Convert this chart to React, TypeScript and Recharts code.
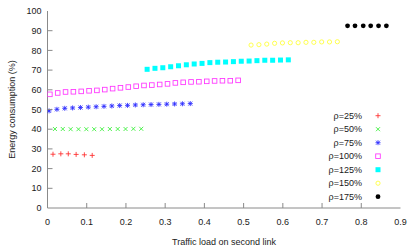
import React from 'react';
import { ScatterChart, Scatter, XAxis, YAxis, Legend } from 'recharts';

const xTicks = [0, 0.1, 0.2, 0.3, 0.4, 0.5, 0.6, 0.7, 0.8, 0.9];
const yTicks = [0, 10, 20, 30, 40, 50, 60, 70, 80, 90, 100];
const xTickLabels = ['0', '0.1', '0.2', '0.3', '0.4', '0.5', '0.6', '0.7', '0.8', '0.9'];
const yTickLabels = ['0', '10', '20', '30', '40', '50', '60', '70', '80', '90', '100'];

const seriesNames = ['ρ=25%', 'ρ=50%', 'ρ=75%', 'ρ=100%', 'ρ=125%', 'ρ=150%', 'ρ=175%'];
const seriesColors = ['#ff2a2a', '#33ee33', '#2a2aff', '#ff33ff', '#00ffff', '#ffff33', '#000000'];
const seriesShapes = ['plus', 'cross', 'star', 'square', 'fsquare', 'circle', 'dot'];

const rho25X = [0.014, 0.034, 0.053, 0.073, 0.094, 0.114];
const rho25Y = [27.3, 27.5, 27.5, 27.2, 27.0, 26.7];

const rho50X = [0.019, 0.039, 0.059, 0.079, 0.099, 0.119, 0.139, 0.159, 0.179, 0.199, 0.219, 0.239];
const rho50Y = [40.1, 40.1, 40.0, 40.0, 40.0, 40.0, 40.0, 40.1, 40.1, 40.1, 40.2, 40.2];

const rho75X = [0.004, 0.024, 0.044, 0.064, 0.084, 0.104, 0.124, 0.144, 0.164, 0.184, 0.204, 0.224, 0.244, 0.264, 0.284, 0.304, 0.324, 0.344, 0.364];
const rho75Y = [49.3, 50.1, 50.6, 50.8, 51.0, 51.2, 51.4, 51.6, 51.8, 52.0, 52.1, 52.3, 52.4, 52.5, 52.6, 52.7, 52.8, 52.9, 53.0];

const rho100X = [0.006, 0.026, 0.046, 0.066, 0.086, 0.106, 0.126, 0.146, 0.166, 0.186, 0.206, 0.226, 0.246, 0.266, 0.286, 0.306, 0.326, 0.346, 0.366, 0.386, 0.406, 0.426, 0.446, 0.466, 0.486];
const rho100Y = [57.7, 58.4, 58.9, 59.0, 59.2, 59.5, 59.7, 60.1, 60.6, 61.0, 61.4, 61.8, 62.2, 62.4, 62.7, 63.0, 63.5, 63.8, 64.0, 64.1, 64.3, 64.5, 64.6, 64.6, 64.8];

const rho125X = [0.254, 0.274, 0.294, 0.314, 0.334, 0.354, 0.374, 0.394, 0.414, 0.434, 0.454, 0.474, 0.494, 0.514, 0.534, 0.554, 0.574, 0.594, 0.614];
const rho125Y = [70.4, 70.9, 71.2, 71.7, 72.2, 72.7, 73.1, 73.4, 73.8, 74.0, 74.1, 74.3, 74.5, 74.6, 74.8, 75.0, 75.0, 75.1, 75.2];

const rho150X = [0.519, 0.539, 0.559, 0.579, 0.599, 0.619, 0.639, 0.659, 0.679, 0.699, 0.719, 0.739];
const rho150Y = [82.7, 82.9, 83.2, 83.6, 83.8, 83.9, 83.9, 84.1, 84.1, 84.3, 84.3, 84.4];

const rho175X = [0.765, 0.784, 0.805, 0.824, 0.844, 0.864];
const rho175Y = [92.5, 92.5, 92.5, 92.5, 92.5, 92.5];

const seriesX = [rho25X, rho50X, rho75X, rho100X, rho125X, rho150X, rho175X];
const seriesY = [rho25Y, rho50Y, rho75Y, rho100Y, rho125Y, rho150Y, rho175Y];

const FONT = '"Liberation Sans", Arial, Helvetica, sans-serif';
const TEXT = '#1a1a1a';
const AXIS = '#8a8a8a';
const FS = 9;

function Marker({ kind, cx, cy, color }: { kind: string; cx: number; cy: number; color: string }) {
  const s = 2.5;
  const sw = 0.85;
  if (kind === 'plus') {
    return (
      <g stroke={color} strokeWidth={sw}>
        <line x1={cx - s} y1={cy} x2={cx + s} y2={cy} />
        <line x1={cx} y1={cy - s} x2={cx} y2={cy + s} />
      </g>
    );
  }
  if (kind === 'cross') {
    const c = 2.0;
    return (
      <g stroke={color} strokeWidth={sw}>
        <line x1={cx - c} y1={cy - c} x2={cx + c} y2={cy + c} />
        <line x1={cx - c} y1={cy + c} x2={cx + c} y2={cy - c} />
      </g>
    );
  }
  if (kind === 'star') {
    const c = 2.0;
    return (
      <g stroke={color} strokeWidth={sw}>
        <line x1={cx - s} y1={cy} x2={cx + s} y2={cy} />
        <line x1={cx} y1={cy - s} x2={cx} y2={cy + s} />
        <line x1={cx - c} y1={cy - c} x2={cx + c} y2={cy + c} />
        <line x1={cx - c} y1={cy + c} x2={cx + c} y2={cy - c} />
      </g>
    );
  }
  if (kind === 'square') {
    return <rect x={cx - 2.3} y={cy - 2.3} width={4.6} height={4.6} fill="none" stroke={color} strokeWidth={sw} />;
  }
  if (kind === 'fsquare') {
    return <rect x={cx - 2.5} y={cy - 2.5} width={5} height={5} fill={color} stroke="none" />;
  }
  if (kind === 'circle') {
    return <circle cx={cx} cy={cy} r={2.1} fill="none" stroke={color} strokeWidth={sw} />;
  }
  return <circle cx={cx} cy={cy} r={2.4} fill={color} stroke="none" />;
}

const BottomTick = (props: any) => {
  const { x, y, index } = props;
  const edge = index === 0 || index === xTicks.length - 1;
  return (
    <g>
      {!edge && <line x1={x} y1={y} x2={x} y2={y - 5} stroke={AXIS} strokeWidth={1} />}
      <text x={x} y={y + 14} dy="0.35em" textAnchor="middle" fontFamily={FONT} fontSize={FS} fill={TEXT}>
        {xTickLabels[index]}
      </text>
    </g>
  );
};

const TopTick = (props: any) => {
  const { x, y, index } = props;
  const edge = index === 0 || index === xTicks.length - 1;
  if (edge) return <g />;
  return <line x1={x} y1={y} x2={x} y2={y + 5} stroke={AXIS} strokeWidth={1} />;
};

const LeftTick = (props: any) => {
  const { x, y, index } = props;
  const edge = index === 0 || index === yTicks.length - 1;
  return (
    <g>
      {!edge && <line x1={x} y1={y} x2={x + 5} y2={y} stroke={AXIS} strokeWidth={1} />}
      <text x={x - 6} y={y} dy="0.35em" textAnchor="end" fontFamily={FONT} fontSize={FS} fill={TEXT}>
        {yTickLabels[index]}
      </text>
    </g>
  );
};

const RightTick = (props: any) => {
  const { x, y, index } = props;
  const edge = index === 0 || index === yTicks.length - 1;
  if (edge) return <g />;
  return <line x1={x} y1={y} x2={x - 5} y2={y} stroke={AXIS} strokeWidth={1} />;
};

const LEG_LEFT = 270;
const LEG_TOP = 106;

const LegendContent = () => (
  <svg width={140} height={100} style={{ display: 'block' }}>
    {seriesNames.map((name, i) => {
      const cy = 115.7 + i * 13.5 - LEG_TOP;
      return (
        <g key={name}>
          <text x={362 - LEG_LEFT} y={cy} dy="0.35em" textAnchor="end" fontFamily={FONT} fontSize={FS} fill={TEXT}>
            {name}
          </text>
          <Marker kind={seriesShapes[i]} cx={378 - LEG_LEFT} cy={cy} color={seriesColors[i]} />
        </g>
      );
    })}
  </svg>
);

export default function App() {
  const datasets = seriesX.map((xs, i) => xs.map((x, j) => ({ x, y: seriesY[i][j] })));
  return (
    <div style={{ position: 'absolute', left: 0, top: 0, width: 415, height: 249, background: '#fff' }}>
      <ScatterChart width={415} height={249} margin={{ top: 11, right: 14.5, bottom: 0, left: 0 }}>
        <XAxis
          xAxisId="bottom"
          dataKey="x"
          type="number"
          domain={[0, 0.9]}
          ticks={xTicks}
          interval={0}
          height={41}
          tickSize={0}
          tickMargin={0}
          tickLine={false}
          axisLine={{ stroke: AXIS, strokeWidth: 1 }}
          tick={<BottomTick />}
          allowDataOverflow
          label={{
            content: (p: any) => {
              const vb = p.viewBox || { x: 47.5, y: 208, width: 353, height: 41 };
              return (
                <text x={vb.x + vb.width / 2} y={vb.y + 34} dy="0.35em" textAnchor="middle" fontFamily={FONT} fontSize={FS} fill={TEXT}>
                  Traffic load on second link
                </text>
              );
            },
          }}
        />
        <XAxis
          xAxisId="top"
          orientation="top"
          dataKey="x"
          type="number"
          domain={[0, 0.9]}
          ticks={xTicks}
          interval={0}
          height={0}
          tickSize={0}
          tickMargin={0}
          tickLine={false}
          axisLine={{ stroke: AXIS, strokeWidth: 1 }}
          tick={<TopTick />}
          allowDataOverflow
        />
        <YAxis
          yAxisId="left"
          dataKey="y"
          type="number"
          domain={[0, 100]}
          ticks={yTicks}
          interval={0}
          width={47.5}
          tickSize={0}
          tickMargin={0}
          tickLine={false}
          axisLine={{ stroke: AXIS, strokeWidth: 1 }}
          tick={<LeftTick />}
          allowDataOverflow
          label={{
            content: (p: any) => {
              const vb = p.viewBox || { x: 0, y: 11, width: 47.5, height: 197 };
              const cx = 12;
              const cy = vb.y + vb.height / 2;
              return (
                <text x={cx} y={cy} dy="0.35em" textAnchor="middle" transform={`rotate(-90, ${cx}, ${cy})`} fontFamily={FONT} fontSize={FS} fill={TEXT}>
                  Energy consumption (%)
                </text>
              );
            },
          }}
        />
        <YAxis
          yAxisId="right"
          orientation="right"
          dataKey="y"
          type="number"
          domain={[0, 100]}
          ticks={yTicks}
          interval={0}
          width={0}
          tickSize={0}
          tickMargin={0}
          tickLine={false}
          axisLine={{ stroke: AXIS, strokeWidth: 1 }}
          tick={<RightTick />}
          allowDataOverflow
        />
        {datasets.map((data, i) => (
          <Scatter
            key={seriesNames[i]}
            name={seriesNames[i]}
            data={data}
            xAxisId="bottom"
            yAxisId="left"
            fill={seriesColors[i]}
            isAnimationActive={false}
            shape={(p: any) => <Marker kind={seriesShapes[i]} cx={p.cx} cy={p.cy} color={seriesColors[i]} />}
          />
        ))}
        <Legend
          layout="vertical"
          align="center"
          verticalAlign="middle"
          content={<LegendContent />}
          wrapperStyle={{ position: 'absolute', left: LEG_LEFT, top: LEG_TOP, width: 140, height: 100, margin: 0, padding: 0 }}
        />
      </ScatterChart>
    </div>
  );
}
